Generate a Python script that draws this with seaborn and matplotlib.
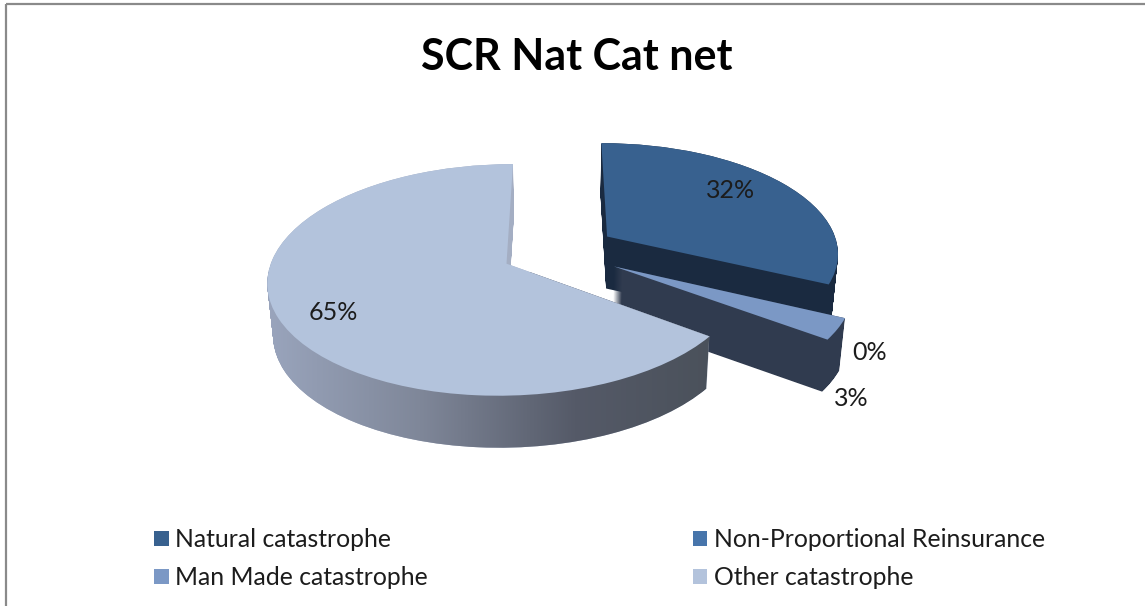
import numpy as np
import seaborn as sns
import matplotlib
matplotlib.use('Agg')
import matplotlib.pyplot as plt
import matplotlib.transforms as mtransforms
from matplotlib.colors import LinearSegmentedColormap
from matplotlib.patches import PathPatch, Rectangle
from matplotlib.path import Path

categories = ['Natural catastrophe', 'Non-Proportional Reinsurance', 'Man Made catastrophe', 'Other catastrophe']
shares = [32, 0, 3, 65]
labels = ['32%', '0%', '3%', '65%']
title = 'SCR Nat Cat net'

top_colors = ['#38618f', '#4775ab', '#7b98c5', '#b3c3dc']
wall_colors = ['#1a2a40', '#1a2a40', '#303b4f', '#a4aec3']
rim_stops = ['#9aa5bd', '#7f8799', '#555a68', '#495059']
label_xy = [(731, 191), (870, 353), (851, 399), (333, 312)]

sns.set_theme(style='white')
plt.rcParams['font.family'] = ['Lato', 'DejaVu Sans']

# centro y radios del pastel en pixeles, k = perspectiva
CX, CY, RX, RY, K = 559, 251, 232, 110, 0.138
DEPTH = 52


class Tilt(mtransforms.Transform):
    # lleva el disco unidad al plano inclinado, z en pixeles hacia abajo
    input_dims = 2
    output_dims = 2
    is_separable = False
    has_inverse = False

    def __init__(self, z=0):
        super().__init__()
        self.z = z

    def transform_non_affine(self, values):
        x, y = np.asarray(values).T
        w = 1 + K * y
        shrink = 1 - 0.02 * self.z / DEPTH
        return np.column_stack((CX + RX * x / w * shrink, CY - RY * y / w + self.z))


fig = plt.figure(figsize=(11.45, 6.06), dpi=100)
ax = fig.add_axes([0, 0, 1, 1])

# el pastel va en sentido horario desde arriba, todo separado
wedges, _ = ax.pie(shares, colors=top_colors, startangle=90, counterclock=False,
                   explode=[0.25, 0.25, 0.27, 0.25], radius=1, wedgeprops={'linewidth': 0})
for w in wedges:
    w.set_transform(Tilt() + ax.transData)

ax.set_xlim(0, 1145)
ax.set_ylim(606, 0)
ax.set_aspect('auto')
ax.axis('on')
ax.set_xticks([])
ax.set_yticks([])
for s in ax.spines.values():
    s.set_visible(False)


def wall_path(w):
    layers = [Tilt(z).transform_path(w.get_path()) for z in np.arange(0, DEPTH + 0.5, 1)]
    return Path.make_compound_path(*layers)


order = [0, 2, 3]  # natural, man made, other
for i in order:
    wedges[i].set_zorder(3 + order.index(i) * 2)
    wall = PathPatch(wall_path(wedges[i]), facecolor=wall_colors[i], edgecolor='none',
                     zorder=2 + order.index(i) * 2, transform=ax.transData)
    ax.add_patch(wall)
    if i == 3:
        # borde del sector grande con degradado
        cmap = LinearSegmentedColormap.from_list('rim', rim_stops)
        grad = np.linspace(0, 1, 256).reshape(1, -1)
        im = ax.imshow(grad, cmap=cmap, extent=(265, 730, 450, 272), aspect='auto',
                       zorder=2.5 + order.index(i) * 2)
        im.set_clip_path(wall)
ax.set_xlim(0, 1145)
ax.set_ylim(606, 0)

for txt, (x, y) in zip(labels, label_xy):
    ax.text(x, y, txt, ha='center', va='center', fontsize=18, color='#1c1c1c', zorder=20)

ax.text(577, 57, title, ha='center', va='center', fontsize=31, fontweight='bold', color='black')

# la leyenda se lee por filas, matplotlib llena por columnas
rows = [0, 2, 1, 3]
leg = ax.legend([wedges[i] for i in rows], [categories[i] for i in rows], ncol=2, frameon=False,
                loc='upper left', bbox_to_anchor=(132, 506), bbox_transform=ax.transData, fontsize=17.8,
                handlelength=0.6, handleheight=0.6, handletextpad=0.25,
                columnspacing=10.7, labelspacing=0.6, labelcolor='#1c1c1c')

# marco gris del grafico, abajo y a la derecha queda fuera
ax.add_patch(Rectangle((5.5, 4), 2000, 1000, fill=False, edgecolor='#8a8a8a', linewidth=1.6, zorder=30))

plt.savefig('out.png', dpi=100)
plt.close()
